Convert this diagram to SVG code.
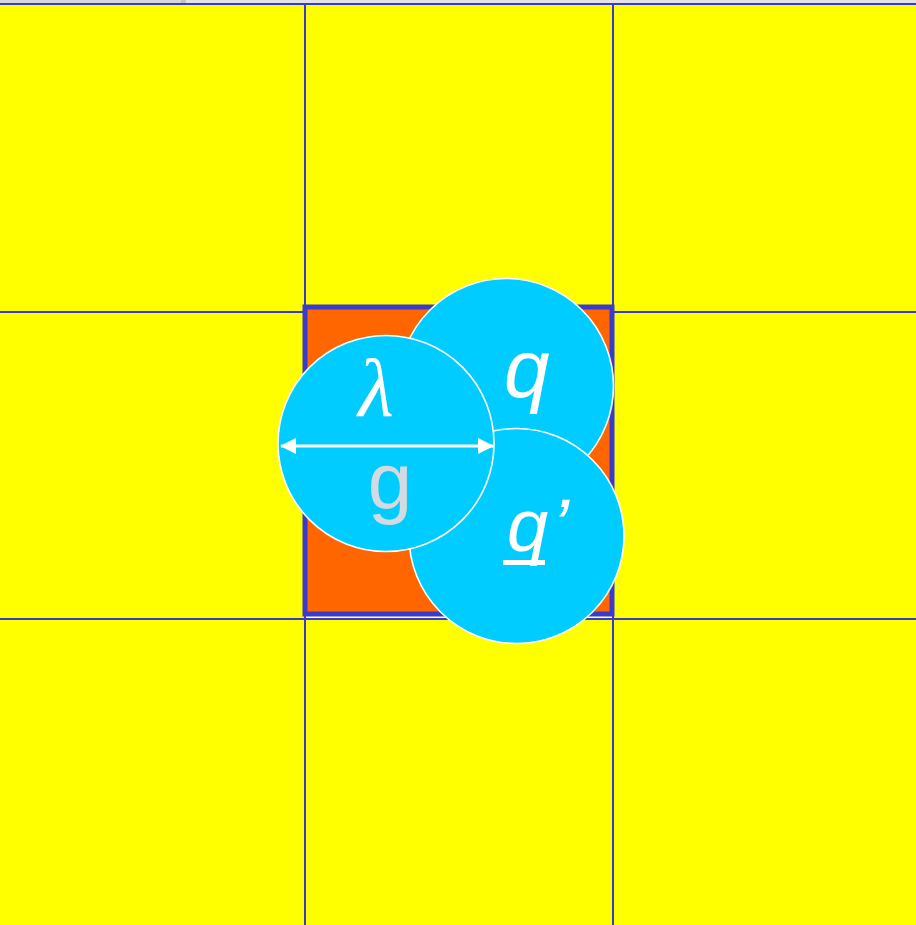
<svg xmlns="http://www.w3.org/2000/svg" width="916" height="925" viewBox="0 0 916 925">
  <style>
    .cell { fill: #ffff00; stroke: #3a3acc; stroke-width: 2; }
    .ball { fill: #00ccff; stroke: #ffffff; stroke-width: 1.6; }
    .lbl { font-family: "Liberation Sans", Arial, sans-serif; fill: #ffffff; font-style: italic; }
  </style>
  <defs>
    <marker id="ah" viewBox="0 0 16 16" refX="15" refY="8" markerWidth="16" markerHeight="16" markerUnits="userSpaceOnUse" orient="auto-start-reverse">
      <path d="M0,0 L16,8 L0,16 Z" fill="#ffffff"/>
    </marker>
  </defs>
  <rect x="0" y="0" width="916" height="925" fill="#ffffff"/>
  <rect x="0" y="0" width="916" height="4" fill="#e2e2e8"/>
  <rect x="0" y="0" width="181" height="4" fill="#d6d6d6"/>
  <rect x="181" y="0" width="5" height="4" fill="#c2c2c2"/>
  <g id="grid">
    <rect class="cell" x="-3" y="4" width="308" height="308"/>
    <rect class="cell" x="305" y="4" width="308" height="308"/>
    <rect class="cell" x="613" y="4" width="308" height="308"/>
    <rect class="cell" x="-3" y="312" width="308" height="307"/>
    <rect class="cell" x="613" y="312" width="308" height="307"/>
    <rect class="cell" x="-3" y="619" width="308" height="310"/>
    <rect class="cell" x="305" y="619" width="308" height="310"/>
    <rect class="cell" x="613" y="619" width="308" height="310"/>
  </g>
  <g id="center">
    <rect x="305" y="307" width="307" height="307" fill="#ff6600" stroke="#3a3acc" stroke-width="5"/>
  </g>
  <g id="q">
    <circle class="ball" cx="506" cy="386" r="107.5"/>
    <text class="lbl" x="504" y="397" font-size="82">q</text>
  </g>
  <g id="qprime">
    <circle class="ball" cx="516.5" cy="536" r="107.5"/>
    <text class="lbl" x="507" y="551" font-size="74">q<tspan dx="4">’</tspan></text>
    <line x1="503" y1="562.5" x2="545" y2="562.5" stroke="#ffffff" stroke-width="5"/>
  </g>
  <g id="lambda">
    <circle class="ball" cx="386" cy="443.5" r="108"/>
    <text x="376" y="416" font-size="82" font-family="'Liberation Serif', 'Times New Roman', serif" font-style="italic" fill="#ffffff" text-anchor="middle">λ</text>
    <text x="390" y="508" font-size="80" font-family="'Liberation Sans', Arial, sans-serif" fill="#d3dae2" text-anchor="middle">g</text>
  </g>
  <g id="connectors">
    <line x1="281" y1="446" x2="493" y2="446" stroke="#ffffff" stroke-width="3" marker-start="url(#ah)" marker-end="url(#ah)"/>
  </g>
</svg>
